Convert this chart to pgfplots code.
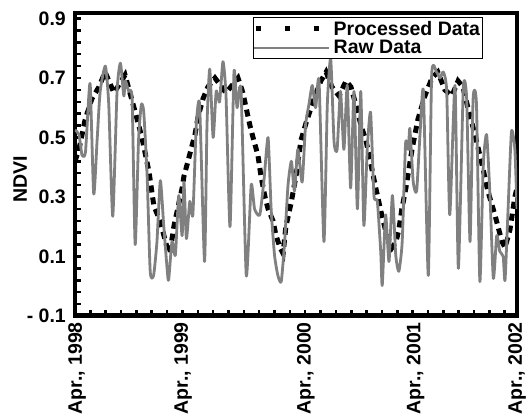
\documentclass[border=0pt]{standalone}
\usepackage{fontspec}
\setmainfont{Liberation Sans}
\usepackage{pgfplots}
\pgfplotsset{compat=1.18}
\definecolor{rawgray}{RGB}{128,128,128}
\newcommand{\lblfont}{\fontsize{19.5}{22}\selectfont\bfseries}

\begin{document}
\begin{tikzpicture}
\begin{axis}[
  scale only axis, width=442pt, height=303pt,
  at={(0,0)}, anchor=south west,
  xmin=0, xmax=144, ymin=-0.1, ymax=0.9185,
  xtick={0.7,35.2,75.2,111,144},
  xticklabels={{Apr., 1998},{Apr., 1999},{Apr., 2000},{Apr., 2001},{Apr., 2002}},
  minor xtick={5,10,...,140},
  ytick={-0.1,0.1,0.3,0.5,0.7,0.9},
  yticklabels={- 0.1,0.1,0.3,0.5,0.7,0.9},
  minor y tick num=4,
  tick pos=left, tick align=inside,
  major tick length=6pt, minor tick length=6pt,
  every tick/.append style={black, line width=2.5pt},
  every major x tick/.append style={draw=none},
  axis line style={line width=4pt},
  xticklabel style={rotate=90, anchor=east, inner sep=0pt, font=\lblfont},
  xticklabel shift=6pt,
  yticklabel style={anchor=east, inner sep=0pt, font=\lblfont},
  yticklabel shift=9pt,
  ylabel={NDVI},
  ylabel style={font=\lblfont, at={(axis description cs:-0.124,0.452)}, anchor=center},
  legend style={at={(axis description cs:0.403,0.987)}, anchor=north west,
    draw=black, line width=1pt, fill=white, inner xsep=0pt, inner ysep=1.5pt,
    font=\lblfont, cells={anchor=west}, row sep=0pt},
]
% processed (smoothed) series
\addplot[black, line width=5pt, dash pattern=on 7pt off 5pt,
  legend image code/.code={\draw[black,line width=5pt,dash pattern=on 5pt off 24pt] (2pt,0pt) -- (75pt,0pt);}]
  coordinates {(0,0.42)(1.3,0.46)(3.3,0.56)(5.5,0.63)(7.8,0.67)(9.8,0.72)(12.7,0.65)(16.3,0.71)
  (19.5,0.59)(21.8,0.50)(24.1,0.385)(25.7,0.27)(27.7,0.22)(30.0,0.13)(30.9,0.11)(32.2,0.20)
  (34.9,0.33)(35.5,0.37)(36.8,0.42)(37.8,0.46)(39.1,0.51)(40.1,0.57)(41.7,0.63)(43.3,0.67)
  (45.6,0.70)(49.2,0.65)(53.1,0.70)(54.7,0.65)(57.0,0.54)(58.0,0.50)(59.6,0.44)(60.6,0.37)
  (61.9,0.30)(62.9,0.26)(64.5,0.22)(65.5,0.17)(66.8,0.13)(67.8,0.11)(68.7,0.20)(70.4,0.28)
  (72.0,0.37)(73.6,0.49)(75.6,0.56)(77.9,0.63)(80.1,0.69)(81.8,0.72)(83.7,0.67)(86.0,0.64)
  (88.3,0.69)(89.9,0.67)(91.5,0.61)(93.2,0.54)(94.8,0.49)(96.4,0.41)(98.0,0.33)(99.7,0.25)
  (101.6,0.17)(103.3,0.13)(104.6,0.15)(105.5,0.19)(106.5,0.26)(107.8,0.33)(109.8,0.46)
  (111.7,0.56)(114.0,0.64)(116.3,0.70)(118.2,0.72)(120.5,0.66)(122.8,0.64)(124.8,0.69)
  (126.4,0.67)(128.0,0.60)(130.3,0.51)(132.6,0.41)(134.5,0.32)(136.8,0.24)(139.1,0.15)
  (140.1,0.13)(141.7,0.19)(143.3,0.30)(144,0.33)};
\addlegendentry{Processed Data}
% raw series
\addplot[rawgray, line width=2.8pt, line join=round, smooth, tension=0.35,
  legend image code/.code={\draw[rawgray,line width=1.2pt] (0pt,0pt) -- (75pt,0pt);}]
  coordinates {(0,0.525)(1.3,0.51)(2.3,0.44)(3.4,0.45)(4.5,0.64)(5.0,0.67)(6.1,0.31)(7.2,0.49)
  (8.2,0.655)(9.9,0.74)(11.0,0.61)(12.3,0.235)(13.7,0.655)(14.8,0.75)(15.9,0.64)(16.4,0.69)
  (17.5,0.655)(18.6,0.63)(19.6,0.14)(20.7,0.49)(21.6,0.61)(22.4,0.585)(23.5,0.37)(24.5,0.05)
  (25.6,0.036)(26.7,0.15)(27.8,0.355)(28.9,0.205)(30.0,0.06)(30.5,0.02)(31.6,0.15)(32.7,0.105)
  (33.8,0.305)(34.9,0.17)(35.5,0.35)(36.3,0.16)(37.4,0.285)(38.4,0.24)(39.5,0.54)(40.6,0.61)
  (42.2,0.083)(43.0,0.54)(43.9,0.73)(45.0,0.50)(46.0,0.655)(47.1,0.62)(48.2,0.755)(49.2,0.64)
  (50.5,0.20)(51.8,0.72)(52.8,0.60)(54.1,0.66)(55.8,0.036)(57.4,0.34)(58.5,0.26)(60.2,0.24)
  (61.6,0.36)(62.9,0.50)(63.9,0.26)(65.0,0.105)(66.1,0.036)(67.2,0.016)(68.3,0.15)(69.4,0.34)
  (70.5,0.42)(71.5,0.32)(72.6,0.46)(74.0,0.35)(75.1,0.54)(76.2,0.61)(77.3,0.675)(78.4,0.60)
  (79.5,0.69)(81.1,0.15)(82.2,0.61)(83.3,0.765)(84.4,0.485)(85.4,0.46)(86.5,0.655)(87.6,0.46)
  (88.7,0.675)(89.8,0.33)(90.9,0.655)(92.0,0.26)(93.1,0.655)(94.1,0.205)(95.2,0.46)(96.3,0.585)
  (97.4,0.305)(98.5,0.285)(99.6,0.117)(100.1,0.003)(101.2,0.24)(102.3,0.083)(103.4,0.305)
  (104.5,0.105)(105.5,0.05)(106.6,0.15)(107.7,0.48)(108.6,0.46)(109.1,0.53)(110.2,0.35)
  (111.3,0.32)(112.4,0.51)(113.5,0.655)(115.1,0.036)(116.2,0.71)(117.8,0.72)(118.9,0.70)
  (120.0,0.72)(121.1,0.655)(122.1,0.24)(123.8,0.675)(124.9,0.06)(126.5,0.665)(127.6,0.63)
  (128.7,0.15)(129.7,0.63)(130.8,0.61)(131.9,0.016)(133.0,0.405)(134.1,0.51)(135.2,0.305)
  (136.3,0.026)(137.4,0.17)(138.4,0.117)(139.5,0.10)(140.1,0.02)(141.1,0.26)(142.2,0.52)
  (143.3,0.46)(144.0,0.26)};
\addlegendentry{Raw Data}
\draw[line width=6pt] (rel axis cs:0,0) -- (rel axis cs:1,0);
\end{axis}
\pgfresetboundingbox
\path[use as bounding box] (-75pt,-98pt) rectangle (456pt,316pt);
\end{tikzpicture}
\end{document}
